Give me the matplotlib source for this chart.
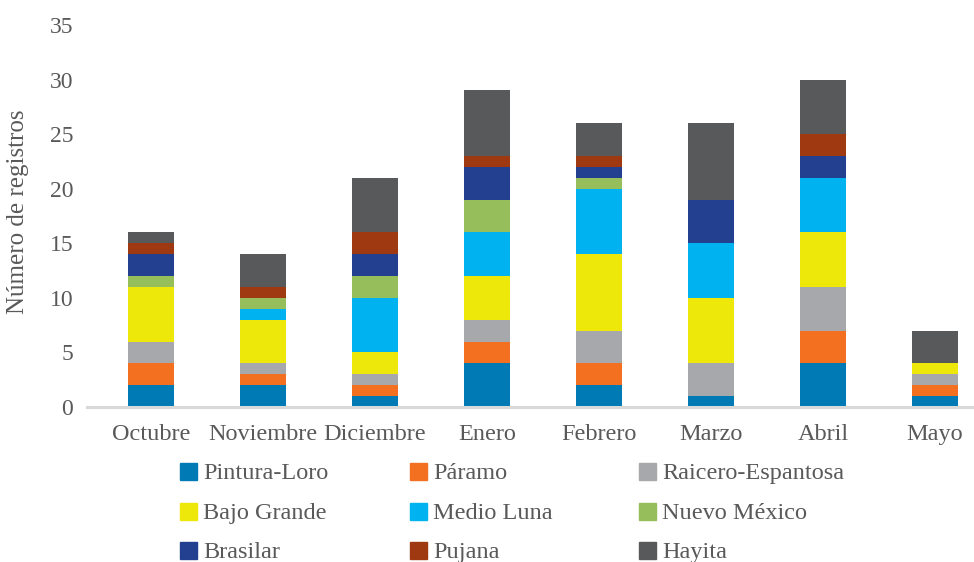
import matplotlib
matplotlib.use("Agg")
import matplotlib.pyplot as plt
from matplotlib.patches import Rectangle
import numpy as np

plt.rcParams['font.family'] = ['Liberation Serif', 'DejaVu Serif']

months = ["Octubre", "Noviembre", "Diciembre", "Enero", "Febrero",
          "Marzo", "Abril", "Mayo"]

pintura_loro = [2, 2, 1, 4, 2, 1, 4, 1]
paramo = [2, 1, 1, 2, 2, 0, 3, 1]
raicero_espantosa = [2, 1, 1, 2, 3, 3, 4, 1]
bajo_grande = [5, 4, 2, 4, 7, 6, 5, 1]
medio_luna = [0, 1, 5, 4, 6, 5, 5, 0]
nuevo_mexico = [1, 1, 2, 3, 1, 0, 0, 0]
brasilar = [2, 0, 2, 3, 1, 4, 2, 0]
pujana = [1, 1, 2, 1, 1, 0, 2, 0]
hayita = [1, 3, 5, 6, 3, 7, 5, 3]

series_names = ["Pintura-Loro", "Páramo", "Raicero-Espantosa", "Bajo Grande",
                "Medio Luna", "Nuevo México", "Brasilar", "Pujana", "Hayita"]
series_values = [pintura_loro, paramo, raicero_espantosa, bajo_grande,
                 medio_luna, nuevo_mexico, brasilar, pujana, hayita]
colors = ["#007AB5", "#F37021", "#A7A8AB", "#EEE80A", "#00B2EF",
          "#96BE5B", "#233F8F", "#9E3912", "#58595B"]

text_color = "#595959"

fig = plt.figure(figsize=(9.74, 5.62), dpi=100)
W, H = 974, 562
ax = fig.add_axes([87 / W, (H - 407) / H, (W - 87) / W, (407 - 25) / H])

x = np.arange(len(months))
bottom = np.zeros(len(months))
for name, vals, col in zip(series_names, series_values, colors):
    v = np.array(vals, dtype=float)
    ax.bar(x, v, width=0.41, bottom=bottom, color=col, label=name, zorder=2)
    bottom += v

ax.set_ylim(0, 35)
ax.set_xlim(-0.571, 7.348)
ax.set_yticks(range(0, 36, 5))
ax.set_xticks(x)
ax.set_xticklabels(months)
ax.tick_params(axis='both', length=0, colors=text_color, labelsize=17)
ax.tick_params(axis='x', pad=12, labelsize=17.5)
ax.tick_params(axis='y', pad=10)
for s in ["top", "right", "left"]:
    ax.spines[s].set_visible(False)
ax.spines["bottom"].set_color("#D9D9D9")
ax.spines["bottom"].set_linewidth(2.2)
ax.spines["bottom"].set_zorder(3)

fig.text(18 / W, 1 - 212 / H, "Número de registros", rotation=90,
         ha="center", va="center", color=text_color, fontsize=18)

# legend laid out row by row, three entries per row
col_x = [180, 410, 639]
row_y = [471, 511, 550]
sq = 17
for i, (name, col) in enumerate(zip(series_names, colors)):
    r, c = divmod(i, 3)
    x0 = col_x[c]
    yc = row_y[r]
    fig.patches.append(Rectangle((x0 / W, 1 - (yc + sq / 2) / H), sq / W, sq / H,
                                 transform=fig.transFigure, color=col,
                                 figure=fig))
    fig.text((x0 + sq + 6) / W, 1 - yc / H, name, ha="left", va="center_baseline",
             color=text_color, fontsize=17.5)

fig.savefig("out.png", dpi=100)
